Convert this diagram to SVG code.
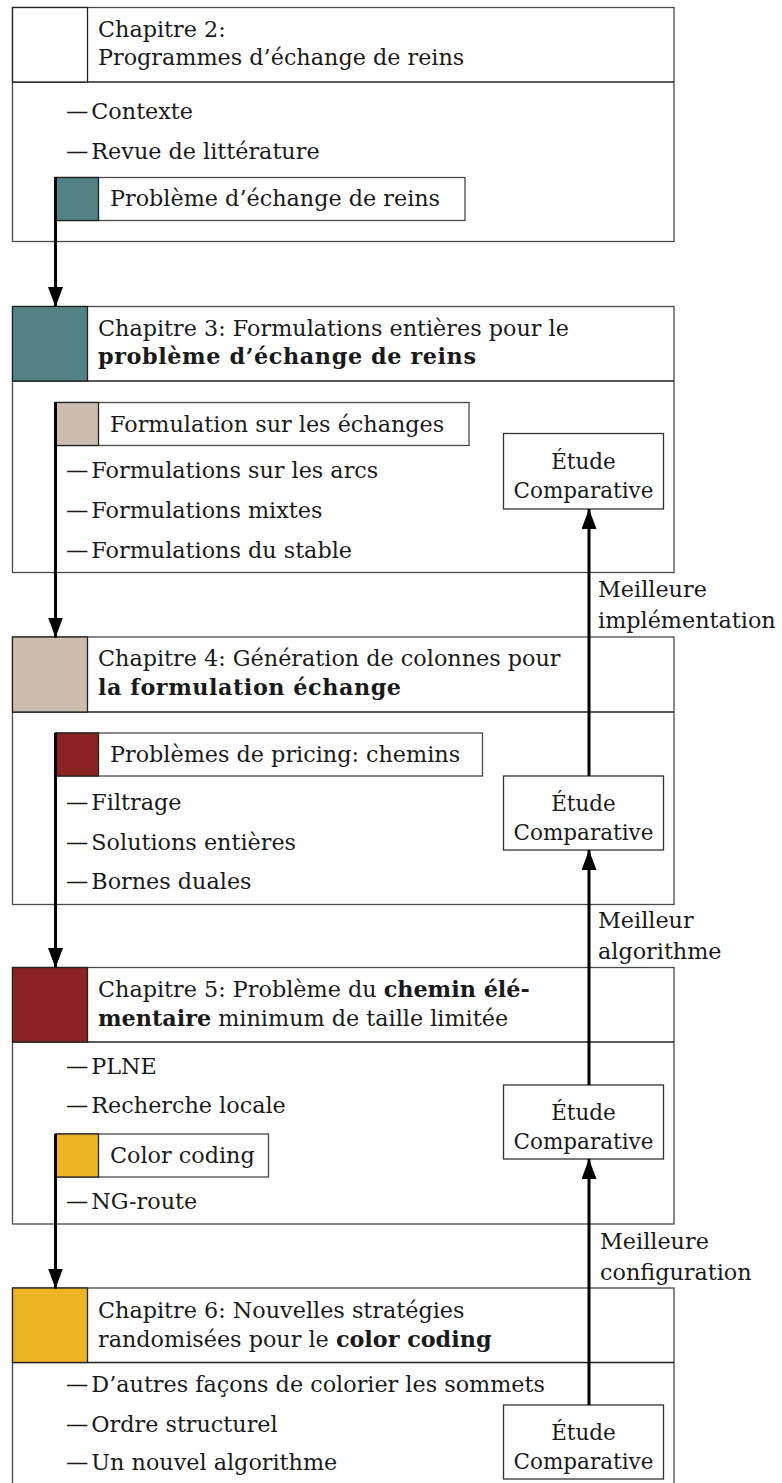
<svg xmlns="http://www.w3.org/2000/svg" width="782" height="1483" viewBox="0 0 782 1483">
<style>
text{font-family:"DejaVu Serif","Liberation Serif",serif;font-size:22.3px;fill:#1a1a1a}
.b{font-weight:bold}
.frame{fill:#fff;stroke:#4a4a4a;stroke-width:1.3}
.div{stroke:#222;stroke-width:1.3}
.sq{stroke:#222;stroke-width:1.3}
.sub{fill:#fff;stroke:#4a4a4a;stroke-width:1.3}
.etude{fill:#fff;stroke:#333;stroke-width:1.3}
.mid{text-anchor:middle;font-size:21.5px}
.conn{stroke:#000;stroke-width:3;fill:none}
</style>
<defs>
<marker id="ah" viewBox="0 0 20 15" refX="20" refY="7.5" markerWidth="20" markerHeight="15" markerUnits="userSpaceOnUse" orient="auto">
<path d="M0,0 L20,7.5 L0,15 z" fill="#000"/>
</marker>
</defs>

<g id="ch2">
<rect class="frame" x="12.5" y="7.5" width="661.5" height="234"/>
<line class="div" x1="12.5" y1="82" x2="674" y2="82"/>
<rect class="sq" x="12.5" y="7.5" width="75" height="74.5" fill="#fff"/>
<text x="98" y="37">Chapitre 2:</text>
<text x="98" y="65">Programmes d’échange de reins</text>
<text x="66" y="119">—<tspan dx="3">Contexte</tspan></text>
<text x="66" y="159">—<tspan dx="3">Revue de littérature</tspan></text>
<rect class="sub" x="55.5" y="177.5" width="409.5" height="43"/>
<rect class="sq" x="55.5" y="177.5" width="43" height="43" fill="#528284"/>
<text x="110" y="206">Problème d’échange de reins</text>
</g>

<g id="ch3">
<rect class="frame" x="12.5" y="306.5" width="661.5" height="266"/>
<line class="div" x1="12.5" y1="381" x2="674" y2="381"/>
<rect class="sq" x="12.5" y="306.5" width="75" height="74.5" fill="#528284"/>
<text x="98" y="336">Chapitre 3: Formulations entières pour le</text>
<text x="98" y="364" class="b" textLength="378" lengthAdjust="spacing">problème d’échange de reins</text>
<rect class="sub" x="55.5" y="402.5" width="413.5" height="43"/>
<rect class="sq" x="55.5" y="402.5" width="43" height="43" fill="#cbbeaf"/>
<text x="110" y="432">Formulation sur les échanges</text>
<text x="66" y="478">—<tspan dx="3">Formulations sur les arcs</tspan></text>
<text x="66" y="518">—<tspan dx="3">Formulations mixtes</tspan></text>
<text x="66" y="558">—<tspan dx="3">Formulations du stable</tspan></text>
</g>

<g id="ch4">
<rect class="frame" x="12.5" y="637" width="661.5" height="267.5"/>
<line class="div" x1="12.5" y1="712" x2="674" y2="712"/>
<rect class="sq" x="12.5" y="637" width="75" height="75" fill="#cbbeaf"/>
<text x="98" y="666">Chapitre 4: Génération de colonnes pour</text>
<text x="98" y="695" class="b" textLength="303" lengthAdjust="spacing">la formulation échange</text>
<rect class="sub" x="55.5" y="733" width="427" height="43"/>
<rect class="sq" x="55.5" y="733" width="43" height="43" fill="#8b2323"/>
<text x="110" y="762">Problèmes de pricing: chemins</text>
<text x="66" y="810">—<tspan dx="3">Filtrage</tspan></text>
<text x="66" y="850">—<tspan dx="3">Solutions entières</tspan></text>
<text x="66" y="889">—<tspan dx="3">Bornes duales</tspan></text>
</g>

<g id="ch5">
<rect class="frame" x="12.5" y="967.5" width="661.5" height="256.5"/>
<line class="div" x1="12.5" y1="1042" x2="674" y2="1042"/>
<rect class="sq" x="12.5" y="967.5" width="75" height="74.5" fill="#8b2323"/>
<text x="98" y="997">Chapitre 5: Problème du <tspan class="b">chemin élé-</tspan></text>
<text x="98" y="1026"><tspan class="b">mentaire</tspan> minimum de taille limitée</text>
<text x="66" y="1074">—<tspan dx="3">PLNE</tspan></text>
<text x="66" y="1113">—<tspan dx="3">Recherche locale</tspan></text>
<rect class="sub" x="55.5" y="1134" width="213" height="43"/>
<rect class="sq" x="55.5" y="1134" width="43" height="43" fill="#ecb322"/>
<text x="110" y="1163">Color coding</text>
<text x="66" y="1209">—<tspan dx="3">NG-route</tspan></text>
</g>

<g id="ch6">
<rect class="frame" x="12.5" y="1288" width="661.5" height="230"/>
<line class="div" x1="12.5" y1="1362.5" x2="674" y2="1362.5"/>
<rect class="sq" x="12.5" y="1288" width="75" height="74.5" fill="#ecb322"/>
<text x="98" y="1318">Chapitre 6: Nouvelles stratégies</text>
<text x="98" y="1347">randomisées pour le <tspan class="b">color coding</tspan></text>
<text x="66" y="1392">—<tspan dx="3">D’autres façons de colorier les sommets</tspan></text>
<text x="66" y="1432">—<tspan dx="3">Ordre structurel</tspan></text>
<text x="66" y="1470">—<tspan dx="3">Un nouvel algorithme</tspan></text>
</g>

<g id="etude1">
<rect class="etude" x="503.5" y="433.5" width="160" height="75.5"/>
<text class="mid" x="583.5" y="469">Étude</text>
<text class="mid" x="583.5" y="498">Comparative</text>
</g>
<g id="etude2">
<rect class="etude" x="503.5" y="776" width="160" height="74"/>
<text class="mid" x="583.5" y="811">Étude</text>
<text class="mid" x="583.5" y="840">Comparative</text>
</g>
<g id="etude3">
<rect class="etude" x="503.5" y="1085" width="160" height="74"/>
<text class="mid" x="583.5" y="1120">Étude</text>
<text class="mid" x="583.5" y="1149">Comparative</text>
</g>
<g id="etude4">
<rect class="etude" x="503.5" y="1405" width="160" height="74"/>
<text class="mid" x="583.5" y="1440">Étude</text>
<text class="mid" x="583.5" y="1469">Comparative</text>
</g>

<g id="connectors">
<line class="conn" x1="55.5" y1="177" x2="55.5" y2="307" marker-end="url(#ah)"/>
<line class="conn" x1="55.5" y1="402" x2="55.5" y2="637.5" marker-end="url(#ah)"/>
<line class="conn" x1="55.5" y1="733" x2="55.5" y2="968" marker-end="url(#ah)"/>
<line class="conn" x1="55.5" y1="1134" x2="55.5" y2="1288.5" marker-end="url(#ah)"/>
<line class="conn" x1="589" y1="776" x2="589" y2="509" marker-end="url(#ah)"/>
<line class="conn" x1="589" y1="1085" x2="589" y2="850" marker-end="url(#ah)"/>
<line class="conn" x1="589" y1="1405" x2="589" y2="1159" marker-end="url(#ah)"/>
<text x="598" y="597">Meilleure</text>
<text x="598" y="628">implémentation</text>
<text x="598" y="928">Meilleur</text>
<text x="598" y="959">algorithme</text>
<text x="600" y="1249">Meilleure</text>
<text x="600" y="1280">configuration</text>
</g>
</svg>
